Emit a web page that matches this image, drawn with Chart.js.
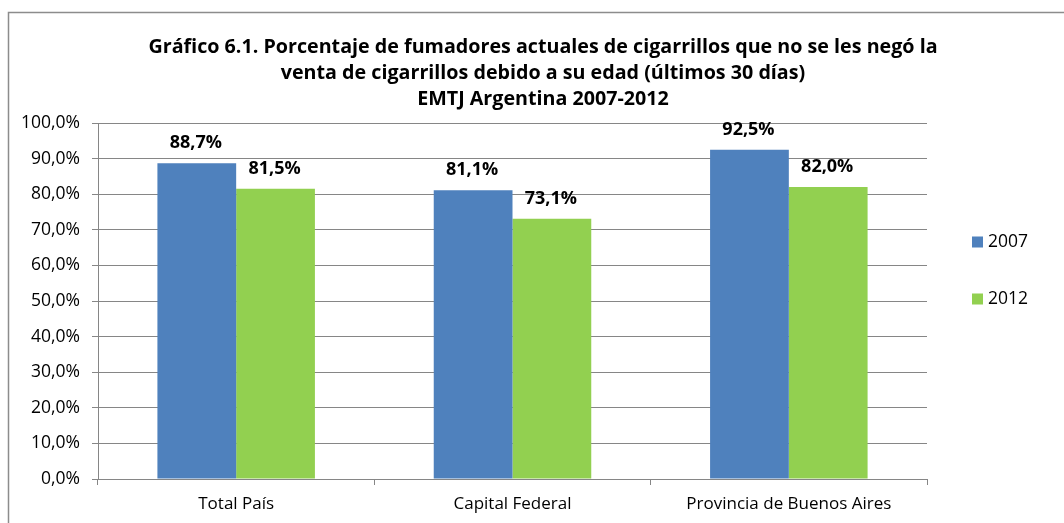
<!DOCTYPE html>
<html>
<head>
<meta charset="utf-8">
<script src="https://cdn.jsdelivr.net/npm/chart.js@4.4.0/dist/chart.umd.min.js"></script>
<style>
  html, body { margin: 0; padding: 0; background: #fff; }
  #wrap { position: relative; width: 1064px; height: 523px; }
</style>
</head>
<body>
<div id="wrap"><canvas id="c" width="1064" height="523"></canvas></div>
<script>
const categories = ["Total País", "Capital Federal", "Provincia de Buenos Aires"];
const seriesNames = ["2007", "2012"];
const values2007 = [88.7, 81.1, 92.5];
const values2012 = [81.5, 73.1, 82.0];
const titleLines = [
  "Gráfico 6.1. Porcentaje de fumadores actuales de cigarrillos que no se les negó la",
  "venta de cigarrillos debido a su edad (últimos 30 días)",
  "EMTJ Argentina 2007-2012"
];
const colors = ["#4F81BD", "#92D050"];

const FONT = "'Open Sans', Lato, sans-serif";
const fmt = v => v.toFixed(1).replace('.', ',') + '%';

const decorPlugin = {
  id: 'decor',
  beforeDraw(chart) {
    const ctx = chart.ctx;
    ctx.save();
    ctx.fillStyle = '#fff';
    ctx.fillRect(0, 0, chart.width, chart.height);
    ctx.strokeStyle = '#8c8c8c';
    ctx.lineWidth = 1.5;
    ctx.strokeRect(8.5, 12.5, chart.width + 10, chart.height + 10);
    ctx.restore();
  },
  afterDraw(chart) {
    const ctx = chart.ctx;
    ctx.save();
    ctx.fillStyle = '#000';
    ctx.font = "bold 19.7px " + FONT;
    ctx.textAlign = 'center';
    ctx.textBaseline = 'middle';
    titleLines.forEach((t, i) => ctx.fillText(t, 543, 47 + i * 26));
    ctx.font = "bold 18px " + FONT;
    chart.data.datasets.forEach((ds, di) => {
      const meta = chart.getDatasetMeta(di);
      meta.data.forEach((bar, i) => {
        ctx.fillText(fmt(ds.data[i]), bar.x - 1, bar.y - 20);
      });
    });
    ctx.font = "17.5px " + FONT;
    ctx.textAlign = 'left';
    const ly = [242, 299];
    chart.data.datasets.forEach((ds, di) => {
      ctx.fillStyle = ds.backgroundColor;
      ctx.fillRect(972, ly[di] - 5.5, 11, 11);
      ctx.fillStyle = '#000';
      ctx.fillText(ds.label, 988, ly[di]);
    });
    ctx.restore();
  }
};

new Chart(document.getElementById('c'), {
  type: 'bar',
  data: {
    labels: categories,
    datasets: [
      { label: seriesNames[0], data: values2007, backgroundColor: colors[0], categoryPercentage: 0.57, barPercentage: 1.0 },
      { label: seriesNames[1], data: values2012, backgroundColor: colors[1], categoryPercentage: 0.57, barPercentage: 1.0 }
    ]
  },
  plugins: [decorPlugin],
  options: {
    responsive: false,
    animation: false,
    devicePixelRatio: 1,
    layout: { padding: { left: 8, right: 137, top: 123, bottom: 0 } },
    plugins: { legend: { display: false }, title: { display: false }, tooltip: { enabled: false } },
    scales: {
      x: {
        grid: { display: true, drawOnChartArea: false, drawTicks: true, tickLength: 6, color: '#868686', offset: true },
        border: { display: true, color: '#868686', width: 1 },
        ticks: { color: '#000', font: { family: FONT, size: 17 }, padding: 9, maxRotation: 0 },
        afterFit(s) { s.height = 44; }
      },
      y: {
        min: 0, max: 100,
        ticks: { stepSize: 10, color: '#000', font: { family: FONT, size: 17.5 }, padding: 12, callback: v => fmt(v) },
        grid: { color: '#868686', tickLength: 6, drawTicks: true },
        border: { display: true, color: '#868686', width: 1 },
        afterFit(s) { s.width = 90; }
      }
    }
  }
});
</script>
</body>
</html>
